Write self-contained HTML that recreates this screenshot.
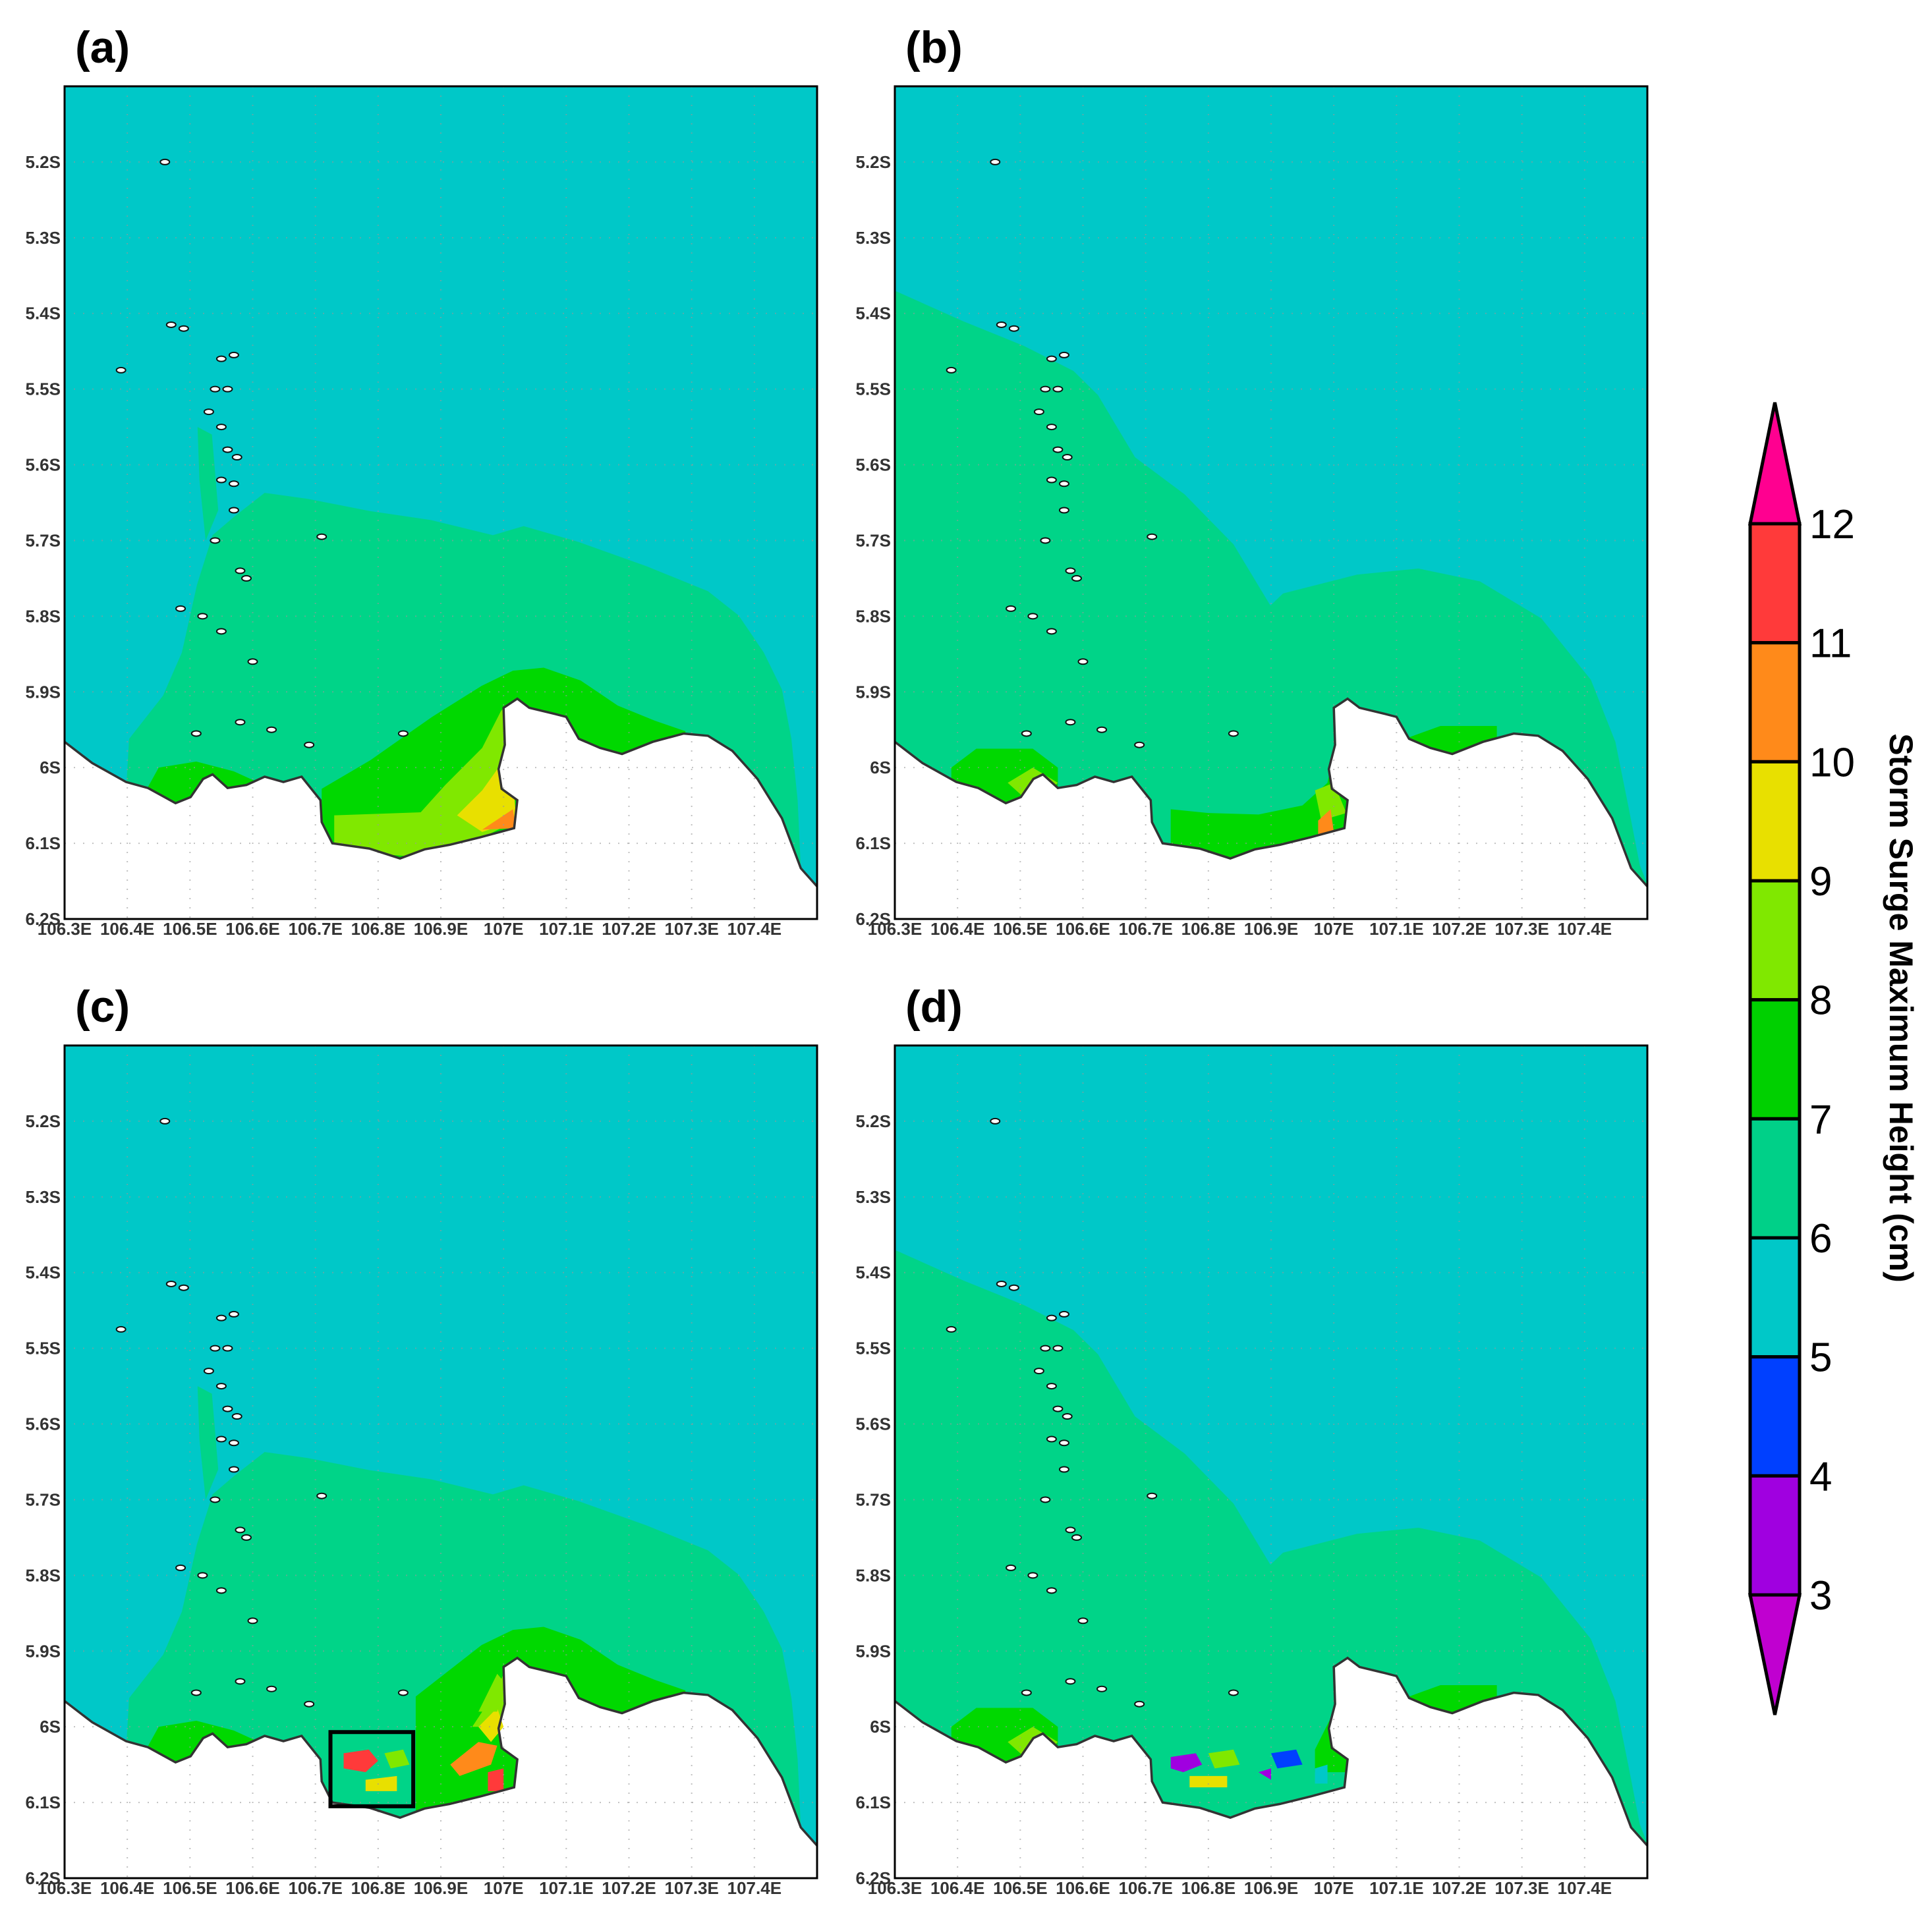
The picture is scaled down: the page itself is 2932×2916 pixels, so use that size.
<!DOCTYPE html>
<html><head><meta charset="utf-8"><style>
html,body{margin:0;padding:0;background:#fff;}
svg{display:block;font-family:"Liberation Sans",sans-serif;}
</style></head><body>
<svg id="fig" width="2932" height="2916" viewBox="0 0 2932 2916" xmlns="http://www.w3.org/2000/svg"></svg>
<script>
const NS="http://www.w3.org/2000/svg";
const svg=document.getElementById('fig');
// ---- data ----
const latTicks=[5.2,5.3,5.4,5.5,5.6,5.7,5.8,5.9,6.0,6.1,6.2];
const latLabels=["5.2S","5.3S","5.4S","5.5S","5.6S","5.7S","5.8S","5.9S","6S","6.1S","6.2S"];
const lonTicks=[106.3,106.4,106.5,106.6,106.7,106.8,106.9,107.0,107.1,107.2,107.3,107.4];
const lonLabels=["106.3E","106.4E","106.5E","106.6E","106.7E","106.8E","106.9E","107E","107.1E","107.2E","107.3E","107.4E"];
const coast=[[106.300,5.966],[106.344,5.994],[106.398,6.019],[106.433,6.027],[106.477,6.047],[106.501,6.039],[106.521,6.015],[106.536,6.009],[106.560,6.027],[106.590,6.023],[106.619,6.012],[106.649,6.019],[106.678,6.012],[106.708,6.043],[106.710,6.072],[106.727,6.100],[106.786,6.107],[106.835,6.120],[106.874,6.108],[106.914,6.102],[106.963,6.092],[107.017,6.080],[107.022,6.043],[106.997,6.028],[106.992,6.002],[107.002,5.970],[107.000,5.921],[107.022,5.909],[107.041,5.921],[107.081,5.929],[107.100,5.933],[107.120,5.962],[107.154,5.974],[107.189,5.982],[107.238,5.966],[107.287,5.955],[107.326,5.958],[107.365,5.978],[107.405,6.015],[107.444,6.067],[107.474,6.133],[107.500,6.157]];
const greenA=[[106.398,6.03],[106.403,5.962],[106.457,5.905],[106.487,5.848],[106.511,5.759],[106.536,5.693],[106.570,5.669],[106.619,5.637],[106.688,5.645],[106.786,5.661],[106.884,5.673],[106.983,5.693],[107.032,5.681],[107.12,5.702],[107.228,5.734],[107.326,5.767],[107.375,5.799],[107.415,5.848],[107.444,5.897],[107.459,5.962],[107.469,6.043],[107.474,6.133],[107.5,6.2],[106.398,6.2]];
const greenStripA=[[106.512,5.55],[106.535,5.56],[106.545,5.66],[106.525,5.70],[106.515,5.62]];
const greenB=[[106.3,5.37],[106.408,5.41],[106.506,5.443],[106.585,5.476],[106.624,5.508],[106.683,5.59],[106.762,5.639],[106.840,5.705],[106.899,5.786],[106.919,5.77],[107.037,5.745],[107.135,5.737],[107.233,5.754],[107.331,5.803],[107.410,5.884],[107.449,5.966],[107.469,6.048],[107.488,6.129],[107.5,6.154],[107.5,6.2],[106.3,6.2]];
const dgA1=[[106.43,6.03],[106.45,6.00],[106.51,5.992],[106.57,6.005],[106.61,6.02],[106.61,6.05],[106.43,6.05]];
const dgA2=[[106.71,6.028],[106.788,5.99],[106.886,5.933],[106.965,5.892],[107.015,5.872],[107.064,5.868],[107.123,5.885],[107.182,5.918],[107.241,5.938],[107.29,5.952],[107.29,6.2],[106.71,6.2]];
const lgA=[[106.73,6.063],[106.868,6.059],[106.907,6.023],[106.966,5.974],[106.996,5.925],[107.006,5.917],[107.016,5.95],[107.006,5.999],[106.986,6.03],[107.02,6.07],[106.9,6.12],[106.73,6.11]];
const yelA=[[106.926,6.063],[106.966,6.03],[106.986,6.007],[107.0,5.99],[107.016,6.02],[107.02,6.07],[106.966,6.085]];
const orA=[[106.966,6.082],[107.015,6.055],[107.02,6.08]];
const dgB1=[[106.39,6.0],[106.43,5.975],[106.52,5.975],[106.56,6.0],[106.56,6.06],[106.39,6.06]];
const dgB2=[[106.74,6.055],[106.8,6.06],[106.88,6.062],[106.95,6.05],[106.99,6.02],[107.0,5.98],[107.01,5.94],[107.02,5.925],[107.03,5.93],[107.03,6.2],[106.74,6.2]];
const dgB3=[[107.12,5.96],[107.17,5.945],[107.26,5.945],[107.26,6.05],[107.12,6.05]];
const lgB1=[[106.48,6.02],[106.52,6.0],[106.56,6.02],[106.52,6.05]];
const lgB2=[[106.97,6.03],[107.0,6.02],[107.02,6.06],[106.98,6.07]];
const orB=[[106.975,6.07],[106.995,6.055],[107.0,6.085],[106.975,6.09]];
const patchesC=[
 {c:"#ff3a3a",p:[[106.745,6.035],[106.785,6.03],[106.8,6.045],[106.78,6.06],[106.745,6.055]]},
 {c:"#80e800",p:[[106.81,6.035],[106.84,6.03],[106.85,6.05],[106.82,6.055]]},
 {c:"#e8e000",p:[[106.78,6.07],[106.83,6.065],[106.83,6.085],[106.78,6.085]]},
 {c:"#ff8a1a",p:[[106.915,6.05],[106.96,6.02],[106.99,6.025],[106.98,6.05],[106.93,6.065]]},
 {c:"#e8e000",p:[[106.96,6.0],[106.99,5.975],[107.0,6.0],[106.98,6.02]]},
 {c:"#ff3a3a",p:[[106.975,6.06],[107.0,6.055],[107.0,6.085],[106.975,6.085]]},
 {c:"#80e800",p:[[106.96,5.98],[106.99,5.93],[107.0,5.94],[106.99,5.98]]}];
const patchesD=[
 {c:"#a000e0",p:[[106.74,6.04],[106.78,6.035],[106.79,6.05],[106.76,6.06],[106.74,6.055]]},
 {c:"#80e800",p:[[106.8,6.035],[106.84,6.03],[106.85,6.05],[106.81,6.055]]},
 {c:"#e8e000",p:[[106.77,6.065],[106.83,6.065],[106.83,6.08],[106.77,6.08]]},
 {c:"#0040ff",p:[[106.9,6.035],[106.94,6.03],[106.95,6.05],[106.91,6.055]]},
 {c:"#00c8c8",p:[[106.97,6.055],[106.99,6.05],[106.99,6.075],[106.97,6.075]]},
 {c:"#a000e0",p:[[106.88,6.06],[106.9,6.055],[106.9,6.07]]}];
const islands=[[106.46,5.20],[106.39,5.475],[106.47,5.415],[106.49,5.42],[106.55,5.46],[106.57,5.455],[106.54,5.50],[106.56,5.5],[106.53,5.53],[106.55,5.55],[106.56,5.58],[106.575,5.59],[106.55,5.62],[106.57,5.625],[106.57,5.66],[106.54,5.70],[106.71,5.695],[106.58,5.74],[106.59,5.75],[106.485,5.79],[106.52,5.8],[106.55,5.82],[106.6,5.86],[106.58,5.94],[106.51,5.955],[106.63,5.95],[106.84,5.955],[106.69,5.97]];
const cbColors=["#ff3a3a","#ff8a1a","#e8e000","#80e800","#00d000","#00d088","#00c8c8","#0040ff","#a000e0"];
const cbLabels=["12","11","10","9","8","7","6","5","4","3"];

const SEA="#00c8c8",G6="#00d488",G7="#00d800",G8="#80e800";
function el(tag,attrs,parent){const e=document.createElementNS(NS,tag);for(const k in attrs)e.setAttribute(k,attrs[k]);(parent||svg).appendChild(e);return e;}

function panel(key,label,x0,y0,W,H,layers){
  const g=el('g',{});
  
  
  const sx=lon=>x0+(lon-106.3)/1.2*W, sy=lat=>y0+(lat-5.1)/1.1*H;
  const clipId='clip'+key;
  const cp=el('clipPath',{id:clipId},g);el('rect',{x:x0,y:y0,width:W,height:H},cp);
  const inner=el('g',{'clip-path':'url(#'+clipId+')'},g);
  const sea=el('rect',{x:x0,y:y0,width:W,height:H,fill:SEA},inner);
  
  
  const pts=a=>a.map(p=>sx(p[0]).toFixed(1)+','+sy(p[1]).toFixed(1)).join(' ');
  layers.forEach(L=>{
    const pg=el('polygon',{points:pts(L.p),fill:L.c},inner);
    
    
  });
  const land=coast.concat([[107.5,6.3],[106.3,6.3]]);
  const lp=el('polygon',{points:pts(land),fill:"#fff"},inner);
  
  
  (layers.over||[]).forEach(L=>{
    const pg=el('polygon',{points:pts(L.p),fill:L.c},inner);
    
    
  });
  lonTicks.forEach(v=>{if(v>106.31){const l=el('line',{x1:sx(v),x2:sx(v),y1:y0,y2:y0+H,stroke:"#999","stroke-width":2,"stroke-dasharray":"2 12",opacity:0.6},inner);}});
  latTicks.forEach(v=>{const l=el('line',{x1:x0,x2:x0+W,y1:sy(v),y2:sy(v),stroke:"#999","stroke-width":2,"stroke-dasharray":"2 12",opacity:0.6},inner);});
  const cl=el('polyline',{points:pts(coast),fill:"none",stroke:"#333","stroke-width":3.5},inner);
  
  
  islands.forEach(p=>{
    const e=el('ellipse',{cx:sx(p[0]),cy:sy(p[1]),rx:7,ry:4,fill:"#fff",stroke:"#111","stroke-width":2},inner);
    
    
  });
  if(layers.box){const b=layers.box;const r=el('rect',{x:sx(b[0]),y:sy(b[1]),width:sx(b[2])-sx(b[0]),height:sy(b[3])-sy(b[1]),fill:"none",stroke:"#000","stroke-width":6},inner);}
  const fr=el('rect',{x:x0,y:y0,width:W,height:H,fill:"none",stroke:"#000","stroke-width":3},g);
  
  
  latTicks.forEach((v,i)=>{
    const t=el('text',{x:x0-6,y:sy(v)+9,'text-anchor':'end','font-size':26,'font-weight':'bold',fill:"#333"},g);
    t.textContent=latLabels[i];
    
    
  });
  lonTicks.forEach((v,i)=>{
    const t=el('text',{x:sx(v),y:y0+H+24,'text-anchor':'middle','font-size':26,'font-weight':'bold',fill:"#333"},g);
    t.textContent=lonLabels[i];
    
    
  });
  const pl=el('text',{x:x0+16,y:y0-36,'font-size':68,'font-weight':'bold',fill:"#000"},g);
  pl.textContent=label;
  
  
}
function layersA(){return [{c:G6,p:greenA,n:'surge-6-7'},{c:G6,p:greenStripA,n:'surge-6-7'},{c:G7,p:dgA1,n:'surge-7-8'},{c:G7,p:dgA2,n:'surge-7-8'},{c:G8,p:lgA,n:'surge-8-9'},{c:"#e8e000",p:yelA,n:'surge-9-10'},{c:"#ff8a1a",p:orA,n:'surge-10-11'}];}
function layersB(){return [{c:G6,p:greenB,n:'surge-6-7'},{c:G7,p:dgB1,n:'surge-7-8'},{c:G7,p:dgB2,n:'surge-7-8'},{c:G7,p:dgB3,n:'surge-7-8'},{c:G8,p:lgB1,n:'surge-8-9'},{c:G8,p:lgB2,n:'surge-8-9'},{c:"#ff8a1a",p:orB,n:'surge-10-11'}];}
const W=1142,H=1264;
panel('a','(a)',98,131,W,H,layersA());
panel('b','(b)',1358,131,W,H,layersB());
const lc=[{c:G6,p:greenA},{c:G6,p:greenStripA},{c:G7,p:dgA1},{c:G7,p:[[106.86,5.96],[106.965,5.892],[107.015,5.872],[107.064,5.868],[107.123,5.885],[107.182,5.918],[107.241,5.938],[107.29,5.952],[107.29,6.2],[106.86,6.2]]},{c:G8,p:[[106.95,6.0],[106.99,5.95],[107.0,5.93],[107.0,6.0]]}];
lc.over=patchesC;lc.box=[106.724,6.007,106.856,6.105];
panel('c','(c)',98,1587,W,H,lc);
const ld=layersB().filter(l=>l.p!==dgB2&&l.p!==orB&&l.p!==lgB2);
ld.push({c:G7,p:[[106.97,6.03],[107.0,5.98],[107.02,5.93],[107.03,5.93],[107.03,6.06],[106.97,6.06]]});
ld.over=patchesD;
panel('d','(d)',1358,1587,W,H,ld);

const cb=el('g',{});


const cx0=2656,cx1=2731,ctop=795,cbot=2421,seg=(cbot-ctop)/cbColors.length;
const up=el('polygon',{points:`${cx0},${ctop} ${cx1},${ctop} ${(cx0+cx1)/2},${611}`,fill:"#ff0090",stroke:"#000","stroke-width":5},cb);

const dn=el('polygon',{points:`${cx0},${cbot} ${cx1},${cbot} ${(cx0+cx1)/2},${2603}`,fill:"#c000d0",stroke:"#000","stroke-width":5},cb);

cbColors.forEach((c,i)=>{
  const r=el('rect',{x:cx0,y:ctop+i*seg,width:cx1-cx0,height:seg,fill:c,stroke:"#000","stroke-width":5},cb);
  
  
});
cbLabels.forEach((s,i)=>{
  const t=el('text',{x:2746,y:ctop+i*seg+22,'font-size':62,fill:"#000"},cb);
  t.textContent=s;
  
  
});
const title=el('text',{x:0,y:0,'font-size':50,'font-weight':'bold','text-anchor':'middle',transform:'translate(2868,1530) rotate(90)',fill:"#000"},cb);
title.textContent="Storm Surge Maximum Height (cm)";


</script>
</body></html>
